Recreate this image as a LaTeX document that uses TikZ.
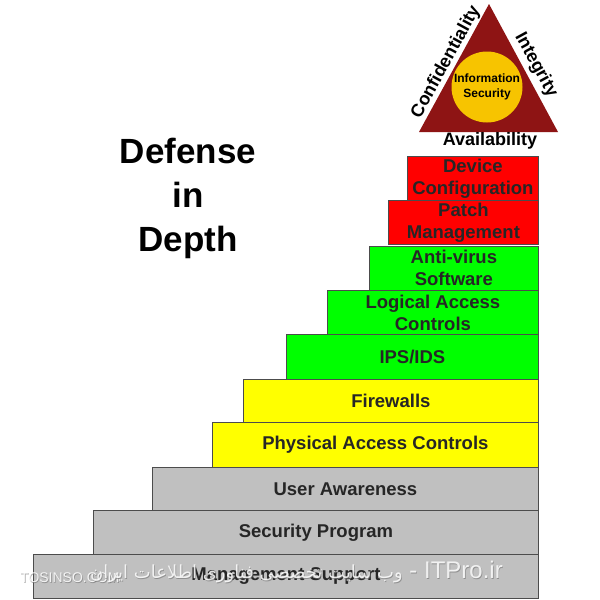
\documentclass[tikz,border=0pt]{standalone}
\usepackage{fontspec}
\setmainfont{Liberation Sans}
\newfontfamily\arabicfont[Script=Arabic]{DejaVu Sans}
\TeXXeTstate=1
\definecolor{barred}{HTML}{FF0000}
\definecolor{bargreen}{HTML}{00FF00}
\definecolor{baryellow}{HTML}{FFFF00}
\definecolor{bargray}{HTML}{C0C0C0}
\definecolor{tri}{HTML}{8E1414}
\definecolor{gold}{HTML}{F7C400}
\begin{document}
\begin{tikzpicture}[x=1pt,y=-1pt,
  bar/.style={draw=black!70, line width=0.8pt, anchor=north west, inner sep=0pt,
    align=center, minimum height=44pt,
    font=\fontsize{18.5}{22}\selectfont\bfseries, text=black!85},
  title/.style={align=center, font=\fontsize{35}{44}\selectfont\bfseries},
  cia/.style={inner sep=0pt, font=\fontsize{18}{20}\selectfont\bfseries},
  wm/.style={inner sep=0pt, text=white, opacity=0.85},
  wmshadow/.style={inner sep=0pt, text=black!55, opacity=0.6}
 ]
\useasboundingbox (0,0) rectangle (600,600);
\fill[white] (0,0) rectangle (600,600);

% title
\node[title] (title) at (188,198) {Defense\\in\\Depth};

% CIA triangle
\coordinate (apex) at (489,4);
\coordinate (bl) at (419,132);
\coordinate (br) at (558,132);
\fill[tri] (apex) -- (br) -- (bl) -- cycle;
\node[circle, fill=gold, minimum size=71pt, inner sep=0pt, align=center,
  font=\fontsize{12}{15}\selectfont\bfseries] (info) at (487,87) {Information\\Security};
\node[cia, rotate=61.3] (conf) at (446,62) {Confidentiality};
\node[cia, rotate=-61.3] (integ) at (536,65) {Integrity};
\node[cia] (avail) at (490,141) {Availability};

% bars (top to bottom)
\node[bar, fill=barred, minimum width=131pt] (dev) at (407,156) {Device\\Configuration};
\node[bar, fill=barred, minimum width=150pt] (patch) at (388,200) {Patch\\Management};
\node[bar, fill=bargreen, minimum width=169pt, minimum height=44.5pt] (av) at (369,245.5) {Anti-virus\\Software};
\node[bar, fill=bargreen, minimum width=211pt] (lac) at (327,290) {Logical Access\\Controls};
\node[bar, fill=bargreen, minimum width=252pt, minimum height=45pt] (ips) at (286,334) {IPS/IDS};
\node[bar, fill=baryellow, minimum width=295pt, minimum height=43pt] (fw) at (243,379) {Firewalls};
\node[bar, fill=baryellow, minimum width=326pt, minimum height=45pt] (pac) at (212,422) {Physical Access Controls};
\node[bar, fill=bargray, minimum width=386pt, minimum height=43pt] (ua) at (152,467) {User Awareness};
\node[bar, fill=bargray, minimum width=445pt] (sp) at (93,510) {Security Program};
\node[bar, fill=bargray, minimum width=505pt] (ms) at (33,554) {Management Support};

% watermark
\node[wmshadow, font=\fontsize{14}{16}\selectfont, anchor=west] (wm1s) at (20.7,578.7) {TOSINSO.COM};
\node[wm, font=\fontsize{14}{16}\selectfont, anchor=west] (wm1) at (20,578) {TOSINSO.COM};
\node[wmshadow, anchor=east] (wm2s) at (503.7,572.7)
  {{\arabicfont\fontsize{18}{20}\selectfont\beginR وب سایت تخصصی فناوری اطلاعات ایران\endR}\fontsize{24}{26}\selectfont{} - ITPro.ir};
\node[wm, anchor=east] (wm2) at (503,572)
  {{\arabicfont\fontsize{18}{20}\selectfont\beginR وب سایت تخصصی فناوری اطلاعات ایران\endR}\fontsize{24}{26}\selectfont{} - ITPro.ir};
\end{tikzpicture}
\end{document}
